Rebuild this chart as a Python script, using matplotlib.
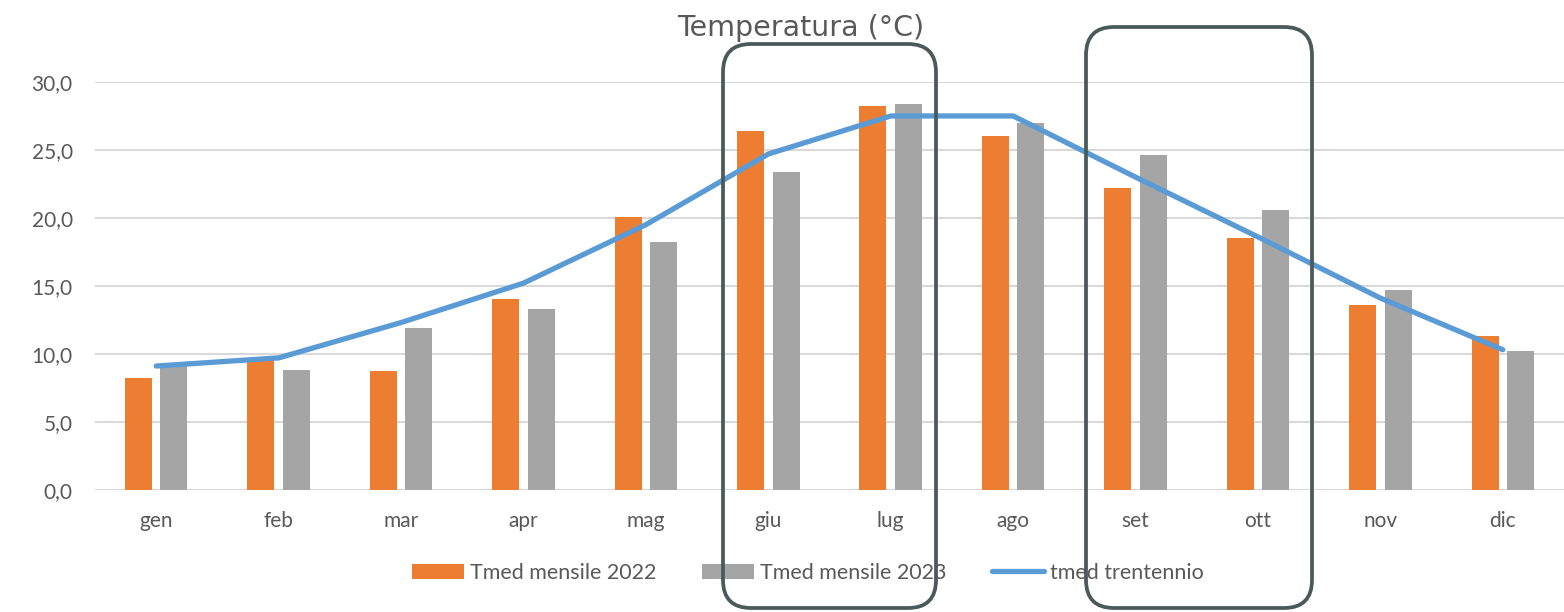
import numpy as np
import matplotlib.pyplot as plt
from matplotlib.patches import FancyBboxPatch

mesi = ["gen", "feb", "mar", "apr", "mag", "giu", "lug", "ago", "set", "ott", "nov", "dic"]
tmed_2022 = [8.2, 9.7, 8.7, 14.0, 20.1, 26.4, 28.2, 26.0, 22.2, 18.5, 13.6, 11.3]
tmed_2023 = [9.2, 8.8, 11.9, 13.3, 18.2, 23.4, 28.4, 27.0, 24.6, 20.6, 14.7, 10.2]
tmed_trentennio = [9.1, 9.7, 12.3, 15.2, 19.5, 24.7, 27.5, 27.5, 23.0, 18.6, 14.1, 10.3]
yticks = [0, 5, 10, 15, 20, 25, 30]

plt.rcParams['font.family'] = ['Lato', 'DejaVu Sans']

fig = plt.figure(figsize=(15.64, 6.12), dpi=100)
ax = fig.add_axes([95/1564, 1-489.7/612, 1-95/1564, (489.7-82)/612])

x = np.arange(len(mesi))
w = 0.22
off = 0.145
b1 = ax.bar(x-off, tmed_2022, w, color="#ed7d31", label="Tmed mensile 2022", zorder=2)
b2 = ax.bar(x+off, tmed_2023, w, color="#a5a5a5", label="Tmed mensile 2023", zorder=2)
l1, = ax.plot(x, tmed_trentennio, color="#5b9bd5", lw=3.8, label="tmed trentennio",
              solid_capstyle="round", zorder=3)

ax.set_xlim(-0.5, len(mesi)-0.5)
ax.set_ylim(0, 30)
ax.set_yticks(yticks)
ax.set_yticklabels([("%.1f" % v).replace(".", ",") for v in yticks])
ax.set_xticks(x)
ax.set_xticklabels(mesi)
ax.yaxis.grid(True, color="#d9d9d9", lw=1.5, zorder=0)
ax.set_axisbelow(True)
for s in ax.spines.values():
    s.set_visible(False)
ax.tick_params(axis='both', length=0, colors="#595959")
ax.tick_params(axis='y', pad=16, labelsize=15)
ax.tick_params(axis='x', pad=15, labelsize=15)

fig.text(801/1564, 1-28/612, "Temperatura (°C)", ha="center", va="center",
         fontsize=20.5, color="#595959", family=["DejaVu Sans"])

fig.legend([b1, b2, l1], [b1.get_label(), b2.get_label(), l1.get_label()],
           loc="center", bbox_to_anchor=(808/1564, 1-573/612), ncol=3, frameon=False,
           fontsize=15.5, handlelength=2.4, handleheight=0.7, handletextpad=0.3,
           columnspacing=2.1, labelcolor="#595959")

# riquadri evidenziati
for x0, x1, y0, y1 in [(723, 936, 44, 608), (1086, 1312, 27, 608)]:
    box = FancyBboxPatch((x0, 612-y1), x1-x0, y1-y0,
                         boxstyle="round,pad=0,rounding_size=28",
                         transform=None, fill=False, ec="#4a5a5a", lw=2.7,
                         clip_on=False, zorder=10)
    fig.patches.append(box)

fig.savefig("out.png", dpi=100)
